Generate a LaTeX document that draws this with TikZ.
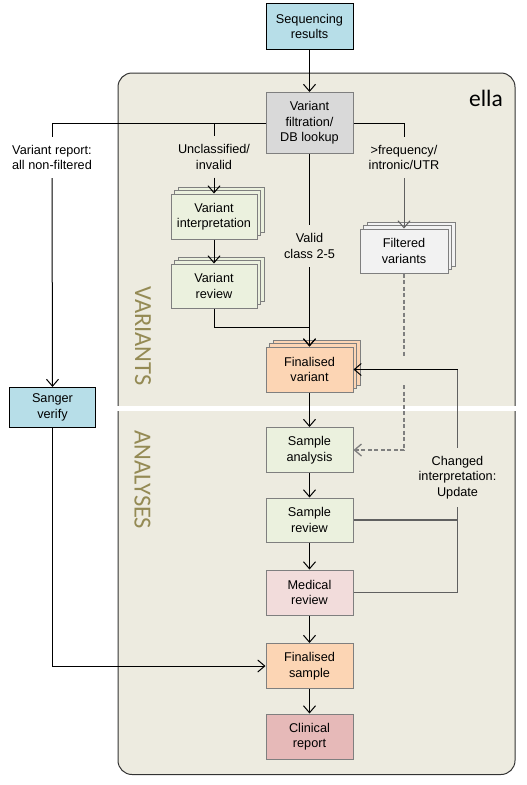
\documentclass[tikz,border=0pt]{standalone}
\usepackage{fontspec}
\setmainfont{Liberation Sans}
\newfontfamily\carl{Carlito}
\usetikzlibrary{arrows.meta,shadows}
\definecolor{cblue}{HTML}{B7DEE8}
\definecolor{cgray}{HTML}{D9D9D9}
\definecolor{cgreen}{HTML}{EBF1DE}
\definecolor{clight}{HTML}{F2F2F2}
\definecolor{cpeach}{HTML}{FCD5B4}
\definecolor{cpink}{HTML}{F2DCDB}
\definecolor{crose}{HTML}{E6B9B8}
\definecolor{ctan}{HTML}{EDEBE0}
\definecolor{bgray}{HTML}{7F7F7F}
\definecolor{lgray}{HTML}{606060}
\definecolor{olive}{HTML}{948A54}
\begin{document}
\begin{tikzpicture}[x=1pt,y=-1pt,
  txt/.style={font=\fontsize{12.7}{15.5}\selectfont, align=center},
  box/.style={txt, draw=bgray, line width=1pt, minimum width=87pt, minimum height=45pt, inner sep=0pt},
  kbox/.style={box, draw=black},
  stk/.style={box, fill=#1,
    copy shadow={shadow xshift=7pt, shadow yshift=7pt, fill=#1, draw=bgray, line width=1pt},
    copy shadow={shadow xshift=3.5pt, shadow yshift=3.5pt, fill=#1, draw=bgray, line width=1pt}},
  lbl/.style={txt, inner sep=0pt},
  conn/.style={line width=1pt, draw=black},
  arr/.style={conn, -{Straight Barb[length=7pt,width=12pt]}},
  fb/.style={line width=1.3pt, draw=lgray},
  dsh/.style={line width=1.3pt, draw=bgray, dash pattern=on 4pt off 2.5pt}
]
\useasboundingbox (0,0) rectangle (527,785);
% container
\draw[fill=ctan, draw=black!80, line width=1pt, rounded corners=14pt] (118,73) rectangle (515,774.5);
\fill[white] (117,406) rectangle (517,411);
\node[font=\carl\fontsize{23.5}{26}\selectfont, anchor=base] (ella) at (486,106.5) {ella};
\node[font=\carl\fontsize{24.5}{26}\selectfont, text=olive, rotate=-90] (vlab) at (143,336) {VARIANTS};
\node[font=\carl\fontsize{24.5}{26}\selectfont, text=olive, rotate=-90] (alab) at (142.5,480) {ANALYSES};
% nodes
\node[kbox, fill=cblue, minimum height=46pt] (seq) at (309.5,26.5) {Sequencing\\results};
\node[box, fill=cgray, minimum height=61pt] (filt) at (309.5,123) {Variant\\filtration/\\DB lookup};
\node[stk=cgreen, minimum width=86pt] (vint) at (214,216.5) {Variant\\interpretation};
\node[stk=cgreen, minimum width=86pt, minimum height=44pt] (vrev) at (214,286) {Variant\\review};
\node[stk=clight, minimum width=88pt, minimum height=44pt] (fv) at (404,251) {Filtered\\variants};
\node[stk=cpeach] (finv) at (309.5,369.5) {Finalised\\variant};
\node[box, fill=cgreen] (sa) at (309.5,450) {Sample\\analysis};
\node[box, fill=cgreen, minimum height=44pt] (sr) at (309.5,520) {Sample\\review};
\node[box, fill=cpink] (mr) at (309.5,592.5) {Medical\\review};
\node[box, fill=cpeach] (fs) at (309.5,666) {Finalised\\sample};
\node[box, fill=crose] (cr) at (309.5,736.5) {Clinical\\report};
\node[kbox, fill=cblue, minimum width=86pt, minimum height=40pt] (sanger) at (52.5,407.5) {Sanger\\verify};
% labels
\node[lbl, minimum height=41pt] (l1) at (52,157.5) {Variant report:\\all non-filtered};
\node[lbl, minimum height=41pt] (l2) at (214,157) {Unclassified/\\invalid};
\node[lbl, minimum height=41pt] (l3) at (404,157.5) {>frequency/\\intronic/UTR};
\node[lbl, minimum height=42pt] (valid) at (309.5,246) {Valid\\class 2-5};
\node[lbl, minimum height=59pt] (chg) at (457.5,477.5) {Changed\\interpretation:\\Update};
\coordinate (gapA) at (404,357);
\coordinate (gapB) at (404,385);
% connectors
\draw[arr] (seq.south) -- (filt.north);
\draw[conn] (filt.west) -| (l1.north);
\draw[arr] (l1.south) -- (sanger.north);
\draw[conn] (filt.west) -| (l2.north);
\draw[arr] (l2.south) -- (vint.north);
\draw[conn] (filt.east) -| (l3.north);
\draw[arr, draw=lgray] (l3.south) -- (fv.north);
\draw[conn] (filt.south) -- (valid.north);
\draw[arr] (vint.south) -- (vrev.north);
\draw[arr] (vrev.south) -- ++(0,19) -| (finv.north);
\draw[arr] (valid.south) -- (finv.north);
\draw[dsh] (fv.south) -- (gapA);
\draw[dsh, -{Straight Barb[length=7pt,width=12pt]}] (gapB) |- (sa.east);
\draw[fb] (chg.north) |- (finv.east);
\draw[arr] (chg.north |- finv.east) -- (finv.east);
\draw[fb] (sr.east) -| (chg.south);
\draw[fb] (mr.east) -| (chg.south);
\draw[arr] (finv.south) -- (sa.north);
\draw[arr] (sa.south) -- (sr.north);
\draw[arr] (sr.south) -- (mr.north);
\draw[arr] (mr.south) -- (fs.north);
\draw[arr] (fs.south) -- (cr.north);
\draw[arr] (sanger.south) |- (fs.west);
\end{tikzpicture}
\end{document}
